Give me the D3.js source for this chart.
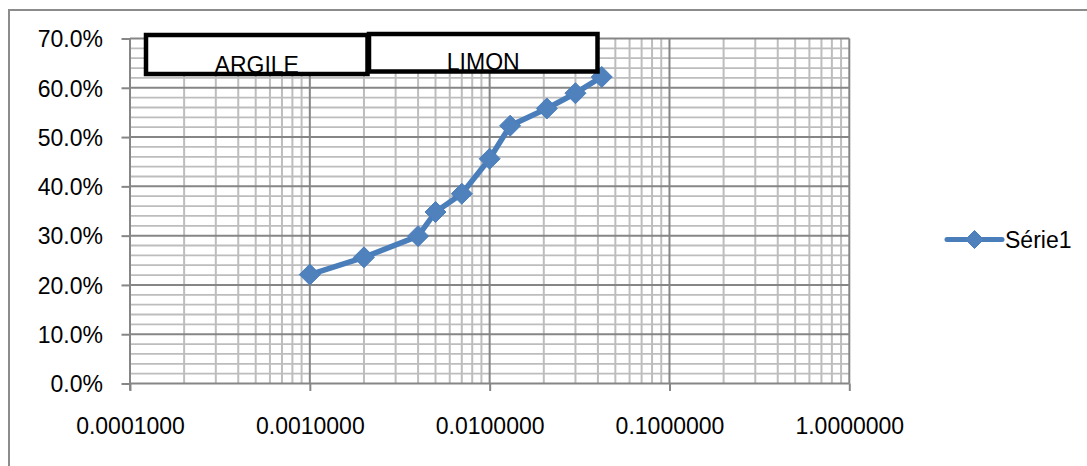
<!DOCTYPE html>
<html>
<head>
<meta charset="utf-8">
<script src="https://cdn.jsdelivr.net/npm/d3@7/dist/d3.min.js"></script>
<style>
  html, body { margin: 0; padding: 0; background: #fff; }
  svg { display: block; font-family: "Liberation Sans", Arial, sans-serif; }
</style>
</head>
<body>
<svg id="chart" width="1087" height="466"></svg>
<script>
// Particle size (mm) and cumulative passing fraction
const diameters = [0.001, 0.002, 0.004, 0.005, 0.007, 0.01, 0.013, 0.0208, 0.03, 0.042];
const passing   = [0.221, 0.256, 0.299, 0.348, 0.385, 0.456, 0.523, 0.558, 0.589, 0.622];
const seriesName = "Série1";

// Axis ticks
const xTicks = [0.0001, 0.001, 0.01, 0.1, 1];
const yTicks = [0, 0.1, 0.2, 0.3, 0.4, 0.5, 0.6, 0.7];

// Soil class zones (labels in the header boxes)
const zoneNames = ["ARGILE", "LIMON"];

const W = 1087, H = 466;
const plot = { left: 130, right: 849.3, top: 38.5, bottom: 383.5 };
const blue = "#4A7EBB";
const majorGrid = "#868686";
const minorGrid = "#BDBDBD";
const fontSize = 23;

const svg = d3.select("#chart");

// Outer chart frame (open on the right and bottom edges of the page)
svg.append("rect")
  .attr("x", 9).attr("y", 10)
  .attr("width", W + 40).attr("height", H + 40)
  .attr("fill", "#fff").attr("stroke", "#8C8C8C").attr("stroke-width", 2);

const x = d3.scaleLog().domain([0.0001, 1]).range([plot.left, plot.right]);
const y = d3.scaleLinear().domain([0, 0.7]).range([plot.bottom, plot.top]);

const g = svg.append("g");

// Minor vertical gridlines: 2..9 within each decade
const minorX = [];
for (let e = -4; e < 0; e++) {
  for (let k = 2; k <= 9; k++) minorX.push(k * Math.pow(10, e));
}
g.selectAll("line.vminor").data(minorX).join("line")
  .attr("class", "vminor")
  .attr("x1", d => x(d)).attr("x2", d => x(d))
  .attr("y1", plot.top).attr("y2", plot.bottom)
  .attr("stroke", minorGrid).attr("stroke-width", 2);

// Minor horizontal gridlines every 2%
const minorY = d3.range(1, 35).map(i => i * 0.02).filter(v => Math.abs(v * 10 - Math.round(v * 10)) > 1e-6);
g.selectAll("line.hminor").data(minorY).join("line")
  .attr("class", "hminor")
  .attr("x1", plot.left).attr("x2", plot.right)
  .attr("y1", d => y(d)).attr("y2", d => y(d))
  .attr("stroke", minorGrid).attr("stroke-width", 1.8);

// Major horizontal gridlines
g.selectAll("line.hmajor").data(yTicks.slice(1)).join("line")
  .attr("class", "hmajor")
  .attr("x1", plot.left).attr("x2", plot.right)
  .attr("y1", d => y(d)).attr("y2", d => y(d))
  .attr("stroke", majorGrid).attr("stroke-width", 2);

// Major vertical gridlines (decades)
g.selectAll("line.vmajor").data(xTicks.slice(1)).join("line")
  .attr("class", "vmajor")
  .attr("x1", d => x(d)).attr("x2", d => x(d))
  .attr("y1", plot.top).attr("y2", plot.bottom)
  .attr("stroke", majorGrid).attr("stroke-width", 2);

// Y axis
const yAxis = d3.axisLeft(y).tickValues(yTicks).tickSize(8.5)
  .tickFormat(d3.format(".1%"));
const yg = svg.append("g").attr("transform", `translate(${plot.left},0)`).call(yAxis);
yg.select(".domain").attr("stroke", majorGrid).attr("stroke-width", 2)
  .attr("d", `M0,${plot.top}V${plot.bottom + 7}`);
yg.selectAll(".tick line").attr("stroke", majorGrid).attr("stroke-width", 2);
yg.selectAll(".tick text")
  .attr("x", -27).attr("dy", "0.36em")
  .attr("fill", "#000").style("font-size", fontSize + "px")
  .style("font-family", "'Liberation Sans', Arial, sans-serif");

// X axis
const xAxis = d3.axisBottom(x).tickValues(xTicks).tickSize(7.5)
  .tickFormat(d3.format(".7f"));
const xg = svg.append("g").attr("transform", `translate(0,${plot.bottom})`).call(xAxis);
xg.select(".domain").attr("stroke", majorGrid).attr("stroke-width", 2)
  .attr("d", `M${plot.left},0H${plot.right}`);
xg.selectAll(".tick line").attr("stroke", majorGrid).attr("stroke-width", 2);
xg.selectAll(".tick text")
  .attr("y", 34).attr("dy", "0.71em")
  .attr("fill", "#000").style("font-size", fontSize + "px")
  .style("font-family", "'Liberation Sans', Arial, sans-serif");

// Series line
const line = d3.line().x(d => x(d[0])).y(d => y(d[1]));
const pts = diameters.map((d, i) => [d, passing[i]]);
svg.append("path").datum(pts)
  .attr("d", line)
  .attr("fill", "none").attr("stroke", blue)
  .attr("stroke-width", 5.5).attr("stroke-linejoin", "round").attr("stroke-linecap", "round");

const diamond = r => `M0,${-r}L${r},0L0,${r}L${-r},0Z`;
svg.append("g").selectAll("path").data(pts).join("path")
  .attr("transform", d => `translate(${x(d[0])},${y(d[1])})`)
  .attr("d", diamond(10.5))
  .attr("fill", "#4F81BD").attr("stroke", blue).attr("stroke-width", 1);

// Zone header boxes
const zones = [
  { name: zoneNames[0], x0: 146, x1: 367.5, y0: 35, y1: 74, ty: 73 },
  { name: zoneNames[1], x0: 369, x1: 597.5, y0: 34, y1: 71.5, ty: 70 }
];
const zg = svg.append("g");
zones.forEach(z => {
  zg.append("rect")
    .attr("x", z.x0).attr("y", z.y0)
    .attr("width", z.x1 - z.x0).attr("height", z.y1 - z.y0)
    .attr("fill", "#fff");
  zg.append("text")
    .attr("x", (z.x0 + z.x1) / 2).attr("y", z.ty)
    .attr("text-anchor", "middle")
    .style("font-size", fontSize + "px")
    .attr("fill", "#000")
    .text(z.name);
});
zones.forEach(z => {
  zg.append("rect")
    .attr("x", z.x0).attr("y", z.y0)
    .attr("width", z.x1 - z.x0).attr("height", z.y1 - z.y0)
    .attr("fill", "none").attr("stroke", "#000").attr("stroke-width", 4.5);
});

// Legend
const lg = svg.append("g").attr("transform", "translate(947,239.5)");
lg.append("line").attr("x1", 0).attr("x2", 55).attr("y1", 0).attr("y2", 0)
  .attr("stroke", blue).attr("stroke-width", 5).attr("stroke-linecap", "round");
lg.append("path").attr("transform", "translate(27.5,0)").attr("d", diamond(9))
  .attr("fill", "#4F81BD").attr("stroke", blue).attr("stroke-width", 1);
lg.append("text").attr("x", 58).attr("y", 0).attr("dy", "0.36em")
  .style("font-size", fontSize + "px").attr("fill", "#000")
  .text(seriesName);
</script>
</body>
</html>
